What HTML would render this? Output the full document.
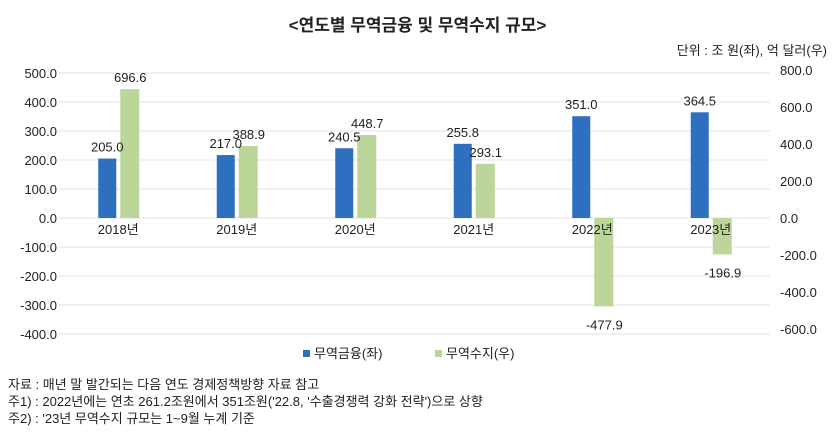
<!DOCTYPE html>
<html><head><meta charset="utf-8"><style>
body{margin:0;background:#fff;font-family:"Liberation Sans","Noto Sans CJK KR",sans-serif;}
#wrap{position:relative;width:835px;height:437px;overflow:hidden;}
.t{position:absolute;white-space:nowrap;color:#222;}
</style></head><body>
<div id="wrap">
<div class="t" style="left:0;width:835px;text-align:center;top:11px;font-size:17px;font-weight:bold;">&lt;연도별 무역금융 및 무역수지 규모&gt;</div>
<div class="t" style="right:8px;top:40px;font-size:13px;">단위 : 조 원(좌), 억 달러(우)</div>
<svg id="svg" width="835" height="437" style="position:absolute;left:0;top:0"></svg>
<div class="t" style="left:8px;top:374px;font-size:13px;">자료 : 매년 말 발간되는 다음 연도 경제정책방향 자료 참고</div>
<div class="t" style="left:8px;top:391px;font-size:13px;">주1) : 2022년에는 연초 261.2조원에서 351조원('22.8, '수출경쟁력 강화 전략')으로 상향</div>
<div class="t" style="left:8px;top:408px;font-size:13px;">주2) : '23년 무역수지 규모는 1~9월 누계 기준</div>
</div>
<script>
const categories=["2018년","2019년","2020년","2021년","2022년","2023년"];
const finance=[205.0,217.0,240.5,255.8,351.0,364.5];
const balance=[696.6,388.9,448.7,293.1,-477.9,-196.9];
const leftTicks=[500,400,300,200,100,0,-100,-200,-300,-400];
const rightTicks=[800,600,400,200,0,-200,-400,-600];
const svg=document.getElementById('svg');const NS="http://www.w3.org/2000/svg";
const zero=218;
const yL=v=>zero-v*0.29;
const yR=v=>zero-v*0.185;
const x0=59,cw=118.5;
const cx=i=>x0+cw*(i+0.5);
function mk(tag,a,txt){const e=document.createElementNS(NS,tag);for(const k in a)e.setAttribute(k,a[k]);if(txt!==undefined)e.textContent=txt;svg.appendChild(e);return e;}
leftTicks.forEach(v=>{
 const g=mk('line',{x1:x0,x2:770,y1:yL(v),y2:yL(v),stroke:'#e3e3e3','stroke-width':1});
 
 const t=mk('text',{x:57,y:yL(v)+5,'text-anchor':'end','font-size':13,fill:'#222'},v.toFixed(1));
 
});
rightTicks.forEach(v=>{
 const t=mk('text',{x:780,y:yR(v)+5,'font-size':13,fill:'#222'},v.toFixed(1));
 
});
categories.forEach((c,i)=>{
 const c0=cx(i);
 const bf=mk('rect',{x:c0-20,y:yL(finance[i]),width:18,height:zero-yL(finance[i]),fill:'#2e6fc0'});
 
 const vb=balance[i];const yt=Math.min(yR(vb),zero),h=Math.abs(yR(vb)-zero);
 const bb=mk('rect',{x:c0+2,y:yt,width:19,height:h,fill:'#bcd598'});
 
 const lf=mk('text',{x:c0-11,y:yL(finance[i])-7,'text-anchor':'middle','font-size':13,fill:'#222'},finance[i].toFixed(1));
 
 const ly=vb>=0?yR(vb)-7:yR(vb)+23;
 const lb=mk('text',{x:c0+12,y:ly,'text-anchor':'middle','font-size':13,fill:'#222'},vb.toFixed(1));
 
 const cl=mk('text',{x:c0,y:zero+16,'text-anchor':'middle','font-size':13,fill:'#222'},c);
 
});
const l1=mk('rect',{x:303,y:350,width:7,height:7,fill:'#2e6fc0'});
const t1=mk('text',{x:314,y:358,'font-size':13,fill:'#222'},'무역금융(좌)');
const l2=mk('rect',{x:435,y:350,width:7,height:7,fill:'#bcd598'});
const t2=mk('text',{x:446,y:358,'font-size':13,fill:'#222'},'무역수지(우)');
</script>
</body></html>
